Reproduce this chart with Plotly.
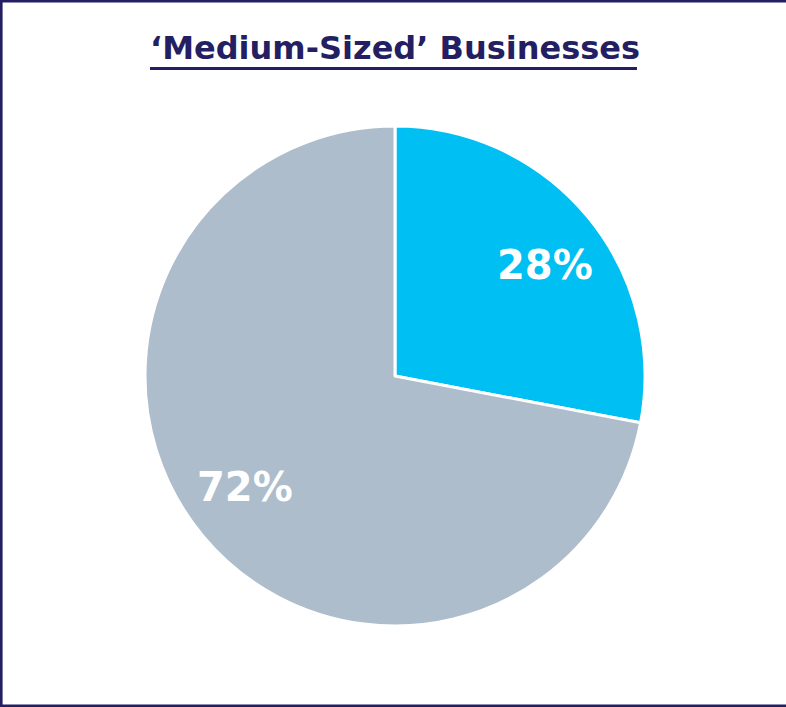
import math
import plotly.graph_objects as go

# Share of medium-sized businesses
categories = ["Yes", "No"]
values = [28, 72]
slice_colors = ["#00BFF2", "#ADBDCC"]

title_text = "\u2018Medium-Sized\u2019 Businesses"
navy = "#231F62"
font_family = "DejaVu Sans, Liberation Sans, Arial, sans-serif"

W, H = 786, 707
# pie placement in pixels
cx, cy, radius = 395, 376, 250

fig = go.Figure(
    go.Pie(
        labels=categories,
        values=values,
        sort=False,
        direction="clockwise",
        rotation=0,
        marker=dict(colors=slice_colors, line=dict(color="white", width=3)),
        textinfo="none",
        hoverinfo="label+percent",
        showlegend=False,
        domain=dict(x=[(cx - radius) / W, (cx + radius) / W],
                    y=[1 - (cy + radius) / H, 1 - (cy - radius) / H]),
    )
)

# value labels placed along each slice's mid-angle
annotations = []
total = sum(values)
start = 0.0
for v in values:
    mid = (start + v / 2) / total * 360 + 3
    start += v
    rad = math.radians(mid)
    px = cx + 0.745 * radius * math.sin(rad)
    py = cy - 0.745 * radius * math.cos(rad)
    annotations.append(dict(
        text=f"<b>{v}%</b>", x=px / W, y=1 - py / H,
        xref="paper", yref="paper", xanchor="center", yanchor="middle",
        showarrow=False,
        font=dict(family=font_family, size=40, color="white"),
    ))

annotations.append(dict(
    text=f"<b>{title_text}</b>",
    x=395 / W, y=1 - 48 / H,
    xref="paper", yref="paper", xanchor="center", yanchor="middle",
    showarrow=False,
    font=dict(family=font_family, size=32, color=navy),
))

fig.update_layout(
    width=W,
    height=H,
    margin=dict(l=0, r=0, t=0, b=0),
    paper_bgcolor="white",
    plot_bgcolor="white",
    annotations=annotations,
    shapes=[
        # underline beneath the title
        dict(type="line", xref="paper", yref="paper",
             x0=150 / W, x1=637 / W, y0=1 - 68.5 / H, y1=1 - 68.5 / H,
             line=dict(color=navy, width=3)),
        # frame around the panel (open on the right edge)
        dict(type="rect", xref="paper", yref="paper",
             x0=1.3 / W, x1=1.02, y0=1.3 / H, y1=1 - 1.3 / H,
             line=dict(color=navy, width=2.6)),
    ],
)

fig.write_html("out.html")
